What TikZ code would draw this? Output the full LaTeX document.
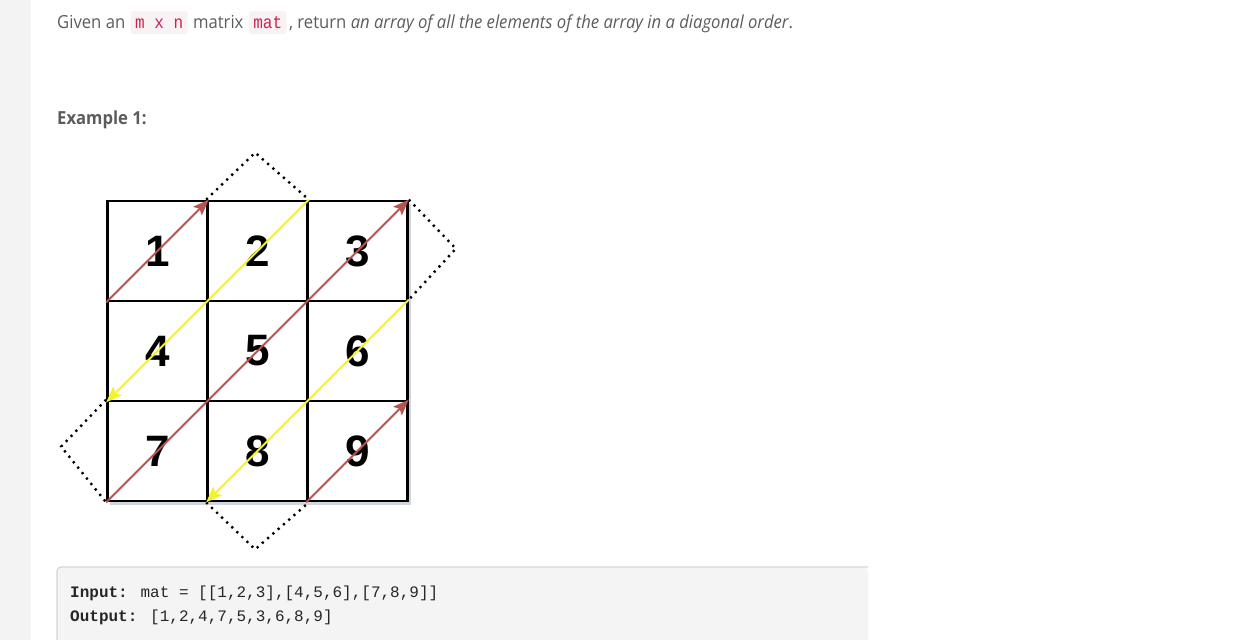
\documentclass[tikz,border=0pt]{standalone}
\usepackage{fontspec}
\setmainfont{Open Sans}
\newfontfamily\uifont[FakeStretch=0.925]{Open Sans}
\newfontfamily\codefont{Liberation Mono}
\newfontfamily\inlinefont[FakeStretch=0.89]{Liberation Mono}
\newfontfamily\cellfont{Liberation Sans}
\usetikzlibrary{positioning,arrows.meta}

\definecolor{sidegrey}{HTML}{F3F3F3}
\definecolor{textgrey}{HTML}{5C5C5C}
\definecolor{codepink}{HTML}{F9F2F4}
\definecolor{codered}{HTML}{C7254E}
\definecolor{codebg}{HTML}{F4F4F4}
\definecolor{codeborder}{HTML}{D6D6D6}
\definecolor{codetext}{HTML}{262626}
\definecolor{arrowbrown}{HTML}{B85450}
\definecolor{arrowyellow}{HTML}{F2F22E}
\definecolor{gridshadow}{HTML}{9AA3B8}

\tikzset{
  cell/.style={draw=black, fill=white, line width=2.7pt, minimum size=100pt, inner sep=0pt,
    font=\cellfont\bfseries\fontsize{44pt}{44pt}\selectfont},
  upline/.style={draw=arrowbrown, line width=2pt, -{Stealth[length=16pt,width=12pt,inset=3pt]}},
  downline/.style={draw=arrowyellow, line width=2pt, -{Stealth[length=16pt,width=12pt,inset=3pt]}},
  turn/.style={line width=2.4pt, dash pattern=on 2.2pt off 4.8pt},
  prose/.style={inner sep=0pt, text=textgrey, font=\uifont\fontsize{18pt}{22pt}\selectfont},
  inlinecode/.style={fill=codepink, text=codered, rounded corners=3pt, inner xsep=4.5pt,
    inner ysep=6pt, text height=11pt, text depth=0pt,
    font=\inlinefont\fontsize{18pt}{18pt}\selectfont},
  codeline/.style={inner sep=0pt, text=codetext, font=\codefont\fontsize{16pt}{16pt}\selectfont}
}

\begin{document}
\begin{tikzpicture}[x=1pt, y=-1pt]
  \useasboundingbox (0,0) rectangle (1251,640);
  \fill[white] (0,0) rectangle (1251,640);
  \fill[sidegrey] (0,0) rectangle (31,640);

  % statement line
  \node[prose, anchor=base west] (given) at (57,28) {Given an};
  \node[inlinecode, right=5pt of given.base east, anchor=base west] (mxn) {m x n};
  \node[prose, right=5pt of mxn.base east, anchor=base west] (matrix) {matrix};
  \node[inlinecode, right=5pt of matrix.base east, anchor=base west] (mat) {mat};
  \node[prose, right=2pt of mat.base east, anchor=base west] (rest)
    {, return \textit{an array of all the elements of the array in a diagonal order}.};

  \node[prose, font=\uifont\bfseries\fontsize{18pt}{22pt}\selectfont, anchor=base west]
    (example) at (57,124) {Example 1:};

  % the matrix
  \fill[gridshadow, opacity=0.45] (110,204) rectangle (411,505);
  \foreach \n in {1,...,9}{
    \pgfmathtruncatemacro\col{mod(\n-1,3)}
    \pgfmathtruncatemacro\row{(\n-1)/3}
    \node[cell] (c\n) at (157.5+100*\col, 251+100*\row) {\n};
  }

  % turning points
  \draw[turn] (c2.north west) -- ++(49,-47) -- (c2.north east);
  \draw[turn] (c3.north east) -- ++(47,49) -- (c6.north east);
  \draw[turn] (c7.north west) -- ++(-45,47) -- (c7.south west);
  \draw[turn] (c8.south west) -- ++(49,47) -- (c8.south east);

  % diagonal order
  \draw[upline] (c1.south west) -- (c1.north east);
  \draw[downline] (c2.north east) -- (c4.south west);
  \draw[upline] (c7.south west) -- (c3.north east);
  \draw[downline] (c6.north east) -- (c8.south west);
  \draw[upline] (c9.south west) -- (c9.north east);

  % example block
  \fill[codebg] (57,645) [rounded corners=4pt] |- (868,567) [sharp corners] -- (868,645) -- cycle;
  \draw[codeborder, line width=1.2pt] (57,645) [rounded corners=4pt] |- (868,567);
  \node[codeline, anchor=base west] (input) at (70,597)
    {\textbf{Input:} mat = [[1,2,3],[4,5,6],[7,8,9]]};
  \node[codeline, anchor=base west] (output) at (70,621)
    {\textbf{Output:} [1,2,4,7,5,3,6,8,9]};
\end{tikzpicture}
\end{document}
